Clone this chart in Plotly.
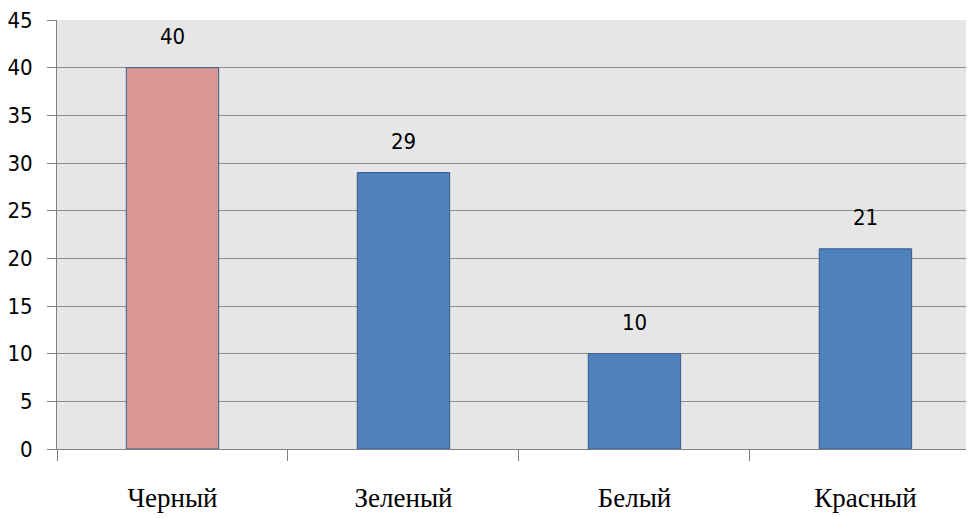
import plotly.graph_objects as go

categories = ["Черный", "Зеленый", "Белый", "Красный"]
values = [40, 29, 10, 21]
colors = ["#d99694", "#4f81bd", "#4f81bd", "#4f81bd"]
y_ticks = [0, 5, 10, 15, 20, 25, 30, 35, 40, 45]

NARROW = "DejaVu Sans Condensed, Liberation Sans Narrow, Arial Narrow, sans-serif"

fig = go.Figure()
fig.add_trace(go.Bar(
    x=categories, y=values,
    marker=dict(color=colors, line=dict(color="#3a5a8c", width=1)),
    width=0.4,
    hoverinfo="skip",
))

for c, v in zip(categories, values):
    fig.add_annotation(x=c, y=v, text=str(v), showarrow=False, yshift=31,
                       font=dict(family=NARROW, size=22, color="#000000"))

fig.update_layout(
    width=966, height=510,
    margin=dict(l=49, r=0, t=12, b=69),
    paper_bgcolor="#ffffff",
    plot_bgcolor="#e6e6e6",
    showlegend=False,
    xaxis=dict(
        type="category",
        range=[-0.5, 3.47],
        tickson="boundaries",
        ticks="outside", ticklen=11, tickcolor="#808080", tickwidth=1,
        showline=True, linecolor="#808080", linewidth=1,
        showgrid=False,
        ticklabelstandoff=25,
        tickfont=dict(family="Liberation Serif, Times New Roman, serif", size=27, color="#000000"),
    ),
    yaxis=dict(
        range=[0, 45],
        tickvals=y_ticks,
        ticks="outside", ticklen=9, tickcolor="#808080", tickwidth=1,
        showline=True, linecolor="#808080", linewidth=1,
        showgrid=True, gridcolor="#8c8c8c", gridwidth=1,
        zeroline=False,
        ticklabelstandoff=10,
        ticklabeloverflow="allow",
        tickfont=dict(family=NARROW, size=22, color="#000000"),
    ),
)

fig.write_html("out.html")
